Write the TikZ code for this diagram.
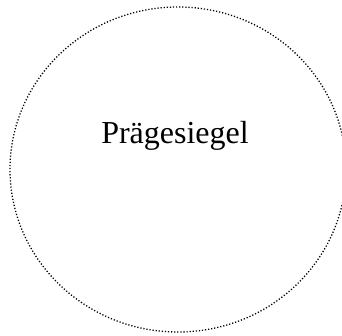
\documentclass[tikz,border=0pt]{standalone}
\usepackage{fontspec}
\setmainfont{Liberation Serif}
\usetikzlibrary{shapes.geometric}
\tikzset{
  sealline/.style={draw=black, line width=1.3pt, dash pattern=on 1.2pt off 1.9pt, ellipse, minimum width=336pt, minimum height=325pt, inner sep=0pt},
  label/.style={font=\fontsize{32pt}{36pt}\selectfont, inner sep=0pt, anchor=base}
}
\begin{document}
\begin{tikzpicture}[x=1pt,y=1pt]
  \useasboundingbox (0,0) rectangle (342,336);
  \clip (0,0) rectangle (342,336);
  \node[sealline] (seal) at (178,166.5) {};
  \node[label] (name) at (175,192) {Prägesiegel};
\end{tikzpicture}
\end{document}
